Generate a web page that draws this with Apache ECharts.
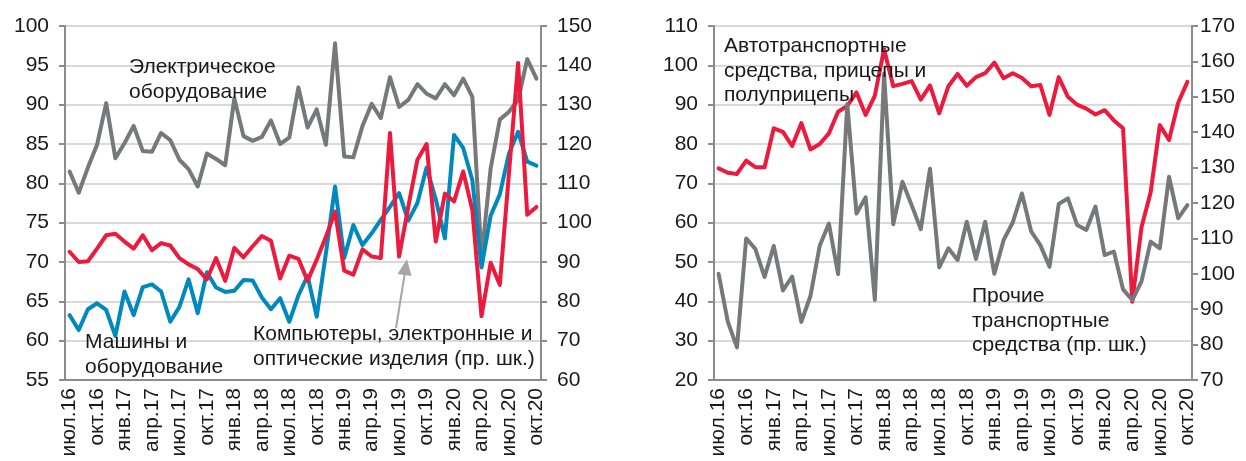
<!DOCTYPE html>
<html>
<head>
<meta charset="utf-8">
<script src="https://cdn.jsdelivr.net/npm/echarts@6/dist/echarts.min.js"></script>
<style>
  html, body { margin: 0; padding: 0; background: #fff; }
  #chart { width: 1246px; height: 461px; }
</style>
</head>
<body>
<div id="chart"></div>
<script>
// months jul.16 .. oct.20
const monthNames = ['янв', 'фев', 'мар', 'апр', 'май', 'июн', 'июл', 'авг', 'сен', 'окт', 'ноя', 'дек'];
const categories = [];
for (let i = 0; i < 52; i++) {
  categories.push(monthNames[(6 + i) % 12] + '.' + (16 + Math.floor((6 + i) / 12)));
}

// left panel (left axis)
const electrical = [81.5, 78.8, 82.0, 84.9, 90.2, 83.2, 85.1, 87.3, 84.1, 84.0, 86.4, 85.5, 83.0, 81.8, 79.6, 83.8, 83.1,
  82.3, 90.8, 86.0, 85.4, 85.9, 88.0, 85.0, 85.8, 92.2, 87.1, 89.4, 84.9, 97.8, 83.4, 83.3, 87.3, 90.1, 88.3,
  93.5, 89.7, 90.6, 92.6, 91.4, 90.8, 92.6, 91.2, 93.3, 91.0, 70.5, 81.9, 88.1, 89.1, 90.6, 95.8, 93.3];
const machines = [71.3, 70.0, 70.1, 71.7, 73.4, 73.6, 72.6, 71.7, 73.4, 71.5, 72.4, 72.1, 70.5, 69.7, 69.1, 67.8, 70.5,
  67.6, 71.8, 70.6, 72.0, 73.3, 72.7, 67.9, 70.8, 70.4, 67.6, 70.3, 73.2, 76.4, 68.9, 68.4, 71.6, 70.7, 70.5,
  86.4, 70.7, 77.0, 83.0, 85.0, 72.6, 78.7, 77.7, 81.5, 76.6, 63.1, 69.9, 67.1, 81.3, 95.3, 76.0, 77.0];
// left panel (right axis)
const computers = [76.5, 72.7, 78.0, 79.5, 77.8, 71.2, 82.5, 76.5, 83.6, 84.3, 82.5, 74.8, 78.6, 85.6, 77.0, 87.4, 83.5,
  82.4, 82.7, 85.4, 85.3, 81.0, 78.0, 80.8, 74.8, 81.5, 86.5, 76.1, 92.2, 109.2, 91.0, 99.4, 94.3, 97.3, 100.7,
  104.0, 107.5, 100.5, 105.0, 114.0, 106.0, 96.0, 122.3, 119.0, 110.8, 88.6, 101.8, 107.2, 117.6, 123.1, 115.5, 114.5];

// right panel (left axis)
const vehicles = [73.8, 72.7, 72.4, 75.8, 74.1, 74.1, 84.0, 83.1, 79.5, 85.3, 78.6, 80.0, 82.7, 88.2, 89.7, 93.1, 87.4,
  92.3, 104.1, 94.7, 95.3, 96.0, 91.3, 94.9, 87.8, 94.7, 97.8, 94.8, 97.0, 98.0, 100.7, 96.7, 98.0, 96.8, 94.7,
  95.0, 87.4, 97.0, 92.0, 90.0, 89.0, 87.5, 88.6, 86.0, 84.0, 39.9, 58.8, 67.7, 84.8, 81.0, 90.5, 95.8];
// right panel (right axis)
const otherTransport = [100.0, 86.5, 79.2, 110.0, 107.0, 99.1, 107.9, 95.3, 99.2, 86.4, 93.8, 107.9, 114.2, 99.9, 148.0, 117.0, 121.6,
  92.6, 156.5, 114.0, 126.0, 119.4, 112.6, 129.7, 101.8, 107.2, 103.9, 114.7, 104.2, 114.7, 100.0, 109.5, 114.5, 122.7, 112.0,
  108.1, 102.0, 119.7, 121.3, 113.8, 112.4, 119.0, 105.3, 106.3, 95.6, 92.6, 97.8, 109.1, 107.2, 127.4, 115.7, 119.4];

const FONT = '"Liberation Sans", Arial, sans-serif';
const FS = 21;
const GREY = '#77787b';
const RED = '#ec1a3d';
const BLUE = '#0089bf';
const AXIS = '#8c8c8c';

function xAxisFor(gridIndex) {
  return {
    type: 'category',
    gridIndex: gridIndex,
    data: categories,
    boundaryGap: true,
    axisLine: { lineStyle: { color: AXIS, width: 2 } },
    axisTick: { interval: 2, length: 6, lineStyle: { color: AXIS, width: 2 } },
    axisLabel: { interval: 2, rotate: 90, margin: 8, color: '#1a1a1a', fontSize: FS, fontFamily: FONT },
    splitLine: { show: false }
  };
}

function yAxisFor(gridIndex, position, min, max, split, margin) {
  return {
    type: 'value',
    gridIndex: gridIndex,
    position: position,
    min: min,
    max: max,
    interval: 10,
    axisLine: { show: true, lineStyle: { color: AXIS, width: 2 } },
    axisTick: { show: true, length: 6, lineStyle: { color: AXIS, width: 2 } },
    axisLabel: { margin: margin, color: '#1a1a1a', fontSize: FS, fontFamily: FONT },
    splitLine: { show: split, lineStyle: { color: '#d9d9d9', width: 2 } }
  };
}

function line(name, data, color, xi, yi) {
  return {
    name: name,
    type: 'line',
    xAxisIndex: xi,
    yAxisIndex: yi,
    data: data,
    symbol: 'none',
    animation: false,
    lineStyle: { color: color, width: 4, cap: 'round', join: 'round' }
  };
}

function label(text, x, y) {
  return {
    type: 'text',
    left: x,
    top: y,
    z: 100,
    style: { text: text, fill: '#1a1a1a', font: FS + 'px ' + FONT, lineHeight: 24.5 }
  };
}

const leftY = yAxisFor(0, 'left', 55, 100, true, 16);
leftY.interval = 5;

const chart = echarts.init(document.getElementById('chart'), null, { renderer: 'canvas' });
chart.setOption({
  animation: false,
  backgroundColor: '#fff',
  grid: [
    { left: 65, right: 705, top: 26, bottom: 81 },
    { left: 714, right: 54, top: 26, bottom: 81 }
  ],
  xAxis: [xAxisFor(0), xAxisFor(1)],
  yAxis: [
    leftY,
    yAxisFor(0, 'right', 60, 150, false, 16),
    yAxisFor(1, 'left', 20, 110, true, 16),
    yAxisFor(1, 'right', 70, 170, false, 8)
  ],
  series: [
    line('Электрическое оборудование', electrical, GREY, 0, 0),
    line('Компьютеры, электронные и оптические изделия', computers, BLUE, 0, 1),
    line('Машины и оборудование', machines, RED, 0, 0),
    line('Автотранспортные средства, прицепы и полуприцепы', vehicles, RED, 1, 2),
    line('Прочие транспортные средства', otherTransport, GREY, 1, 3)
  ],
  graphic: [
    label('Электрическое\nоборудование', 129, 55),
    label('Машины и\nоборудование', 85, 330),
    label('Компьютеры, электронные и\nоптические изделия (пр. шк.)', 253, 322),
    label('Автотранспортные\nсредства, прицепы и\nполуприцепы', 724, 34),
    label('Прочие\nтранспортные\nсредства (пр. шк.)', 972, 284),
    {
      type: 'line',
      z: 100,
      shape: { x1: 396, y1: 328, x2: 405, y2: 272 },
      style: { stroke: '#a6a6a6', lineWidth: 2 }
    },
    {
      type: 'polygon',
      z: 100,
      shape: { points: [[407, 259], [411.5, 276], [397.5, 274]] },
      style: { fill: '#a6a6a6' }
    }
  ]
});
</script>
</body>
</html>
